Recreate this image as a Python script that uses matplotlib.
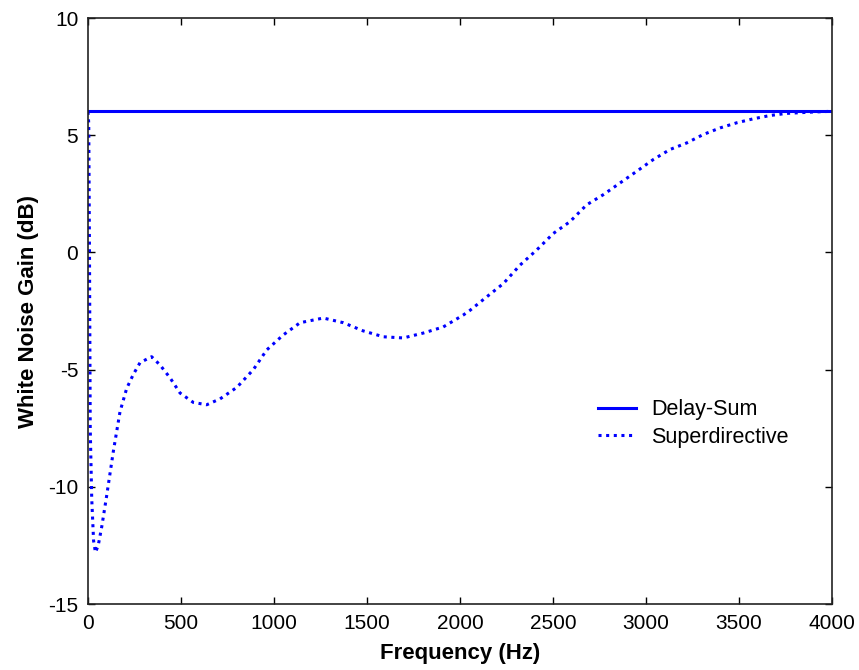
import numpy as np
import matplotlib
matplotlib.use('Agg')
import matplotlib.pyplot as plt

plt.rcParams['font.family'] = ['Liberation Sans', 'DejaVu Sans']
plt.rcParams['axes.unicode_minus'] = False

# frequency axis (Hz) and white noise gain (dB)
freq_ds = [0, 4000]
wng_ds = [6.02, 6.02]

freq_sd = [0, 4, 8, 12, 20, 30, 40, 55, 74, 100, 136, 172, 208, 244, 280,
           342, 387, 441, 495, 566, 638, 710, 800, 889, 961, 1050, 1140,
           1265, 1373, 1480, 1588, 1695, 1803, 1910, 2018, 2054, 2143, 2233,
           2323, 2412, 2502, 2591, 2681, 2770, 2860, 2950, 3039, 3129, 3219,
           3308, 3398, 3488, 3577, 3667, 3756, 3900, 4000]
wng_sd = [6.0, 5.5, 0.0, -7.5, -10.5, -12.3, -12.8, -12.5, -11.7, -10.4,
          -8.5, -6.8, -5.8, -5.2, -4.7, -4.45, -4.8, -5.35, -6.0, -6.4,
          -6.5, -6.25, -5.76, -5.0, -4.16, -3.52, -3.0, -2.8, -3.0, -3.35,
          -3.6, -3.65, -3.44, -3.18, -2.67, -2.47, -1.9, -1.33, -0.54, 0.1,
          0.81, 1.31, 2.03, 2.46, 2.96, 3.46, 3.96, 4.39, 4.67, 5.03, 5.31,
          5.53, 5.7, 5.84, 5.93, 5.99, 6.02]

fig = plt.figure(figsize=(8.59, 6.70), dpi=100)
ax = fig.add_axes([88/859, 66/670, 744/859, 586/670])

ax.plot(freq_ds, wng_ds, color='#0000ff', lw=2.2, label='Delay-Sum')
ax.plot(freq_sd, wng_sd, color='#0000ff', lw=2.2, linestyle=(0, (1, 1.5)),
        label='Superdirective')

ax.set_xlim(0, 4000)
ax.set_ylim(-15, 10)
ax.set_xticks(np.arange(0, 4001, 500))
ax.set_yticks(np.arange(-15, 11, 5))
ax.tick_params(direction='in', length=5, width=1, top=True, right=True,
               labelsize=15, pad=7)
for s in ax.spines.values():
    s.set_linewidth(1.2)
    s.set_color('#222222')

ax.set_xlabel('Frequency (Hz)', fontsize=16, fontweight='bold')
ax.set_ylabel('White Noise Gain (dB)', fontsize=16, fontweight='bold')
ax.xaxis.set_label_coords(0.5, -0.066)
ax.yaxis.set_label_coords(-0.066, 0.5)

ax.legend(loc='center left', bbox_to_anchor=(0.685, 0.308), frameon=False,
          fontsize=15.5, handlelength=1.8, handletextpad=0.7,
          labelspacing=0.3, borderpad=0, borderaxespad=0)

fig.savefig('out.png', dpi=100)
